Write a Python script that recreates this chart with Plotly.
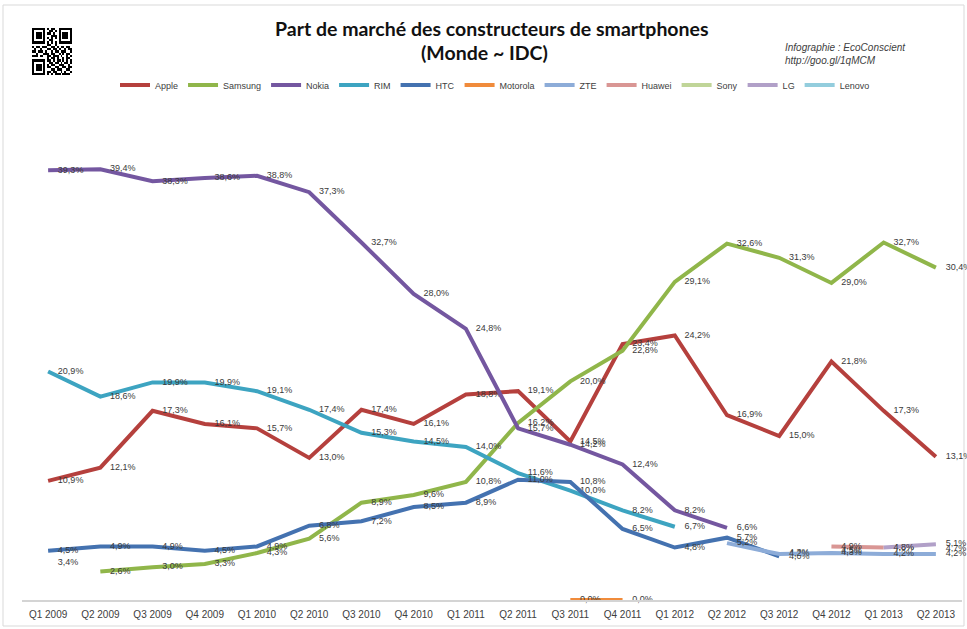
import plotly.graph_objects as go

quarters = ["Q1 2009", "Q2 2009", "Q3 2009", "Q4 2009", "Q1 2010", "Q2 2010",
            "Q3 2010", "Q4 2010", "Q1 2011", "Q2 2011", "Q3 2011", "Q4 2011",
            "Q1 2012", "Q2 2012", "Q3 2012", "Q4 2012", "Q1 2013", "Q2 2013"]

N = None
apple = [10.9, 12.1, 17.3, 16.1, 15.7, 13.0, 17.4, 16.1, 18.8, 19.1, 14.5, 23.4,
         24.2, 16.9, 15.0, 21.8, 17.3, 13.1]
samsung = [N, 2.6, 3.0, 3.3, 4.3, 5.6, 8.9, 9.6, 10.8, 16.2, 20.0, 22.8,
           29.1, 32.6, 31.3, 29.0, 32.7, 30.4]
nokia = [39.3, 39.4, 38.3, 38.6, 38.8, 37.3, 32.7, 28.0, 24.8, 15.7, 14.2, 12.4,
         8.2, 6.6, N, N, N, N]
rim = [20.9, 18.6, 19.9, 19.9, 19.1, 17.4, 15.3, 14.5, 14.0, 11.6, 10.0, 8.2,
       6.7, N, 4.3, N, N, N]
htc = [4.5, 4.9, 4.9, 4.5, 4.9, 6.8, 7.2, 8.5, 8.9, 11.0, 10.8, 6.5,
       4.8, 5.7, 4.0, N, N, N]
motorola = [3.4, N, N, N, N, N, N, N, N, N, 0.0, 0.0, N, N, N, N, N, N]
zte = [N, N, N, N, N, N, N, N, N, N, N, N, N, 5.2, 4.2, 4.3, 4.2, 4.2]
huawei = [N, N, N, N, N, N, N, N, N, N, N, N, N, N, N, 4.9, 4.8, N]
sony = [N, N, N, N, N, N, N, N, N, N, N, N, N, N, N, 4.5, N, N]
lg = [N, N, N, N, N, N, N, N, N, N, N, N, N, N, N, N, 4.8, 5.1]
lenovo = [N, N, N, N, N, N, N, N, N, N, N, N, N, N, N, N, N, 4.7]

series = [
    ("Apple", apple, "#B5403D"),
    ("Samsung", samsung, "#90B64A"),
    ("Nokia", nokia, "#7457A0"),
    ("RIM", rim, "#3DA4C1"),
    ("HTC", htc, "#4472B0"),
    ("Motorola", motorola, "#F08B3B"),
    ("ZTE", zte, "#8DACD8"),
    ("Huawei", huawei, "#D99694"),
    ("Sony", sony, "#C0D598"),
    ("LG", lg, "#B1A0C8"),
    ("Lenovo", lenovo, "#93CDDD"),
]

QR_ROWS = [
    "111111101011001111111",
    "100000100110101000001",
    "101110101101001011101",
    "101110100011101011101",
    "101110101010101011101",
    "100000100110001000001",
    "111111101010101111111",
    "000000001100100000000",
    "101101110011010110110",
    "010010001101101001011",
    "110111010010110111001",
    "001000111011001010110",
    "111011001101110100101",
    "000000001011010010110",
    "111111101101011010101",
    "100000100110110101101",
    "101110101011001110010",
    "101110101100110011011",
    "101110100011011100110",
    "100000101101100101001",
    "111111101010111011110",
]

FONT = "Liberation Sans, Arial, sans-serif"


def fmt(v):
    return "" if v is None else f"{v:.1f}".replace(".", ",") + "%"


fig = go.Figure()
for name, vals, color in series:
    fig.add_trace(go.Scatter(
        x=quarters, y=vals, name=name, mode="lines+markers+text",
        line=dict(color=color, width=4),
        marker=dict(size=14, opacity=0, color=color),
        text=[fmt(v) for v in vals], textposition="middle right",
        textfont=dict(family=FONT, size=9, color="#3A3A3A"),
        cliponaxis=False, connectgaps=False, showlegend=False,
    ))
# legend entries (line symbols only)
for name, vals, color in series:
    fig.add_trace(go.Scatter(
        x=[None], y=[None], name=name, mode="lines",
        line=dict(color=color, width=4), showlegend=True, hoverinfo="skip",
    ))

# QR-like decoration
fig.add_trace(go.Heatmap(
    z=[[int(c) for c in r] for r in QR_ROWS],
    colorscale=[[0, "white"], [1, "black"]], showscale=False,
    xaxis="x2", yaxis="y2", hoverinfo="skip", showlegend=False, xgap=0, ygap=0,
))

# pixel helpers: plot area x 22..962, y 20..600
L, R, T, B = 22, 5, 20, 29
W, H = 967, 629
PW, PH = W - L - R, H - T - B


def px(x):
    return (x - L) / PW


def py(y):
    return (H - B - y) / PH


fig.update_layout(
    width=W, height=H,
    margin=dict(l=L, r=R, t=T, b=B, autoexpand=False),
    paper_bgcolor="white", plot_bgcolor="white",
    font=dict(family=FONT, color="#404040"),
    xaxis=dict(type="category", range=[-0.5, 17.5], showgrid=False, zeroline=False,
               showline=True, linecolor="#D4D4D4", linewidth=1.5, ticks="",
               automargin=False, ticklabelstandoff=4,
               tickfont=dict(family=FONT, size=10, color="#404040")),
    yaxis=dict(range=[0, 45], domain=[0, py(108)], showgrid=False, zeroline=False,
               showline=False, showticklabels=False, ticks="", automargin=False),
    xaxis2=dict(domain=[px(32), px(72)], visible=False, anchor="y2",
                range=[-0.5, 20.5]),
    yaxis2=dict(domain=[py(75), py(28)], visible=False, anchor="x2",
                range=[20.5, -0.5]),
    showlegend=True,
    legend=dict(orientation="h", x=px(495), xanchor="center", y=py(85), yanchor="middle",
                font=dict(family=FONT, size=9, color="#404040"),
                itemwidth=30, tracegroupgap=0, bgcolor="rgba(0,0,0,0)"),
    annotations=[
        dict(text="<b>Part de marché des constructeurs de smartphones</b>", x=px(492), y=py(28),
             xref="paper", yref="paper", showarrow=False, xanchor="center", yanchor="middle",
             font=dict(family="Lato, sans-serif", size=19.5, color="#111111")),
        dict(text="<b>(Monde ~ IDC)</b>", x=px(484), y=py(52),
             xref="paper", yref="paper", showarrow=False, xanchor="center", yanchor="middle",
             font=dict(family="Lato, sans-serif", size=19.5, color="#111111")),
        dict(text="<i>Infographie : EcoConscient</i>", x=px(783), y=py(47),
             xref="paper", yref="paper", showarrow=False, xanchor="left", yanchor="middle",
             font=dict(family=FONT, size=10, color="#404040")),
        dict(text="<i>http://goo.gl/1qMCM</i>", x=px(783), y=py(61),
             xref="paper", yref="paper", showarrow=False, xanchor="left", yanchor="middle",
             font=dict(family=FONT, size=10, color="#404040")),
    ],
    shapes=[
        dict(type="rect", xref="paper", yref="paper", x0=px(3), x1=px(964),
             y0=py(626), y1=py(5), line=dict(color="#D9D9D9", width=1),
             fillcolor="rgba(0,0,0,0)", layer="below"),
    ],
)

fig.write_html("out.html", config={"displayModeBar": False},
               post_script="document.body.style.margin='0';document.body.style.overflow='hidden';")
